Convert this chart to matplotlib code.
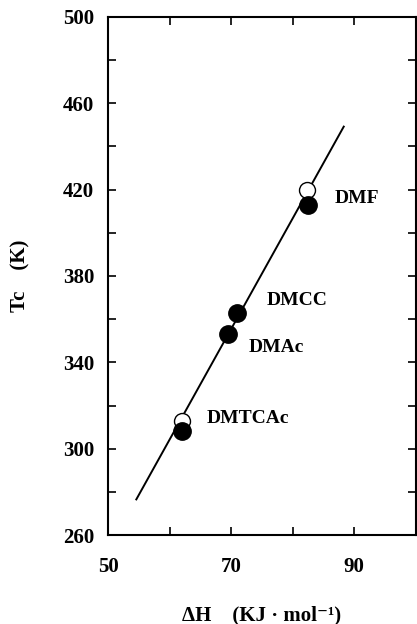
import matplotlib
matplotlib.use("Agg")
import matplotlib.pyplot as plt

# Data
names = ["DMF", "DMCC", "DMAc", "DMTCAc"]
dH_filled = [82.5, 71.0, 69.5, 62.0]
Tc_filled = [413, 363, 353, 308]
dH_open = [82.4, 62.0]
Tc_open = [420, 313]
line_x = [54.6, 88.3]
line_y = [276.5, 449.2]
label_pos = [(86.8, 416), (75.8, 368.5), (72.9, 347), (66.0, 314)]

xticks = [50, 60, 70, 80, 90, 100]
xticklabels = ["50", "", "70", "", "90", ""]
yticks = [260, 280, 300, 320, 340, 360, 380, 400, 420, 440, 460, 480, 500]
yticklabels = ["260", "", "300", "", "340", "", "380", "", "420", "", "460", "", "500"]

plt.rcParams['font.family'] = ['Liberation Serif', 'DejaVu Serif']
plt.rcParams['font.weight'] = 'bold'

fig = plt.figure(figsize=(4.17, 6.24), dpi=100)
ax = fig.add_axes([0.259, 0.1426, 0.738, 0.8302])

ax.plot(line_x, line_y, color='black', lw=1.4, zorder=2)
ax.plot(dH_open, Tc_open, 'o', ms=11.5, mfc='white', mec='black', mew=1.0, zorder=3)
ax.plot(dH_filled, Tc_filled, 'o', ms=12.5, mfc='black', mec='black', zorder=4)

for n, (x, y) in zip(names, label_pos):
    ax.text(x, y, n, fontsize=14, fontweight='bold', va='center', ha='left')

ax.set_xlim(50, 100)
ax.set_ylim(260, 500)
ax.set_xticks(xticks)
ax.set_xticklabels(xticklabels)
ax.set_yticks(yticks)
ax.set_yticklabels(yticklabels)
ax.tick_params(direction='in', length=6, width=1.2, top=True, right=True,
               labelsize=15)
ax.tick_params(axis='x', pad=16)
ax.tick_params(axis='y', pad=10)
for lab in ax.get_xticklabels() + ax.get_yticklabels():
    lab.set_fontweight('bold')
for s in ax.spines.values():
    s.set_linewidth(1.5)

ax.set_ylabel("Tc    (K)", fontsize=15, fontweight='bold', labelpad=23)
ax.set_xlabel("ΔH    (KJ · mol⁻¹)", fontsize=15, fontweight='bold', labelpad=20)

fig.savefig("out.png", dpi=100)
